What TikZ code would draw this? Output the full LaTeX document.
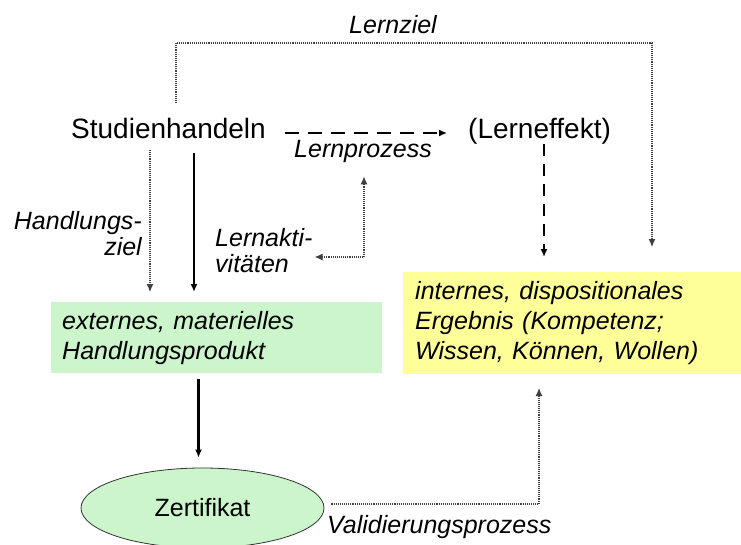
\documentclass[tikz,border=0pt]{standalone}
\usepackage{fontspec}
\setmainfont{Liberation Sans}
\usetikzlibrary{arrows.meta, shapes, positioning}

\definecolor{boxgreen}{RGB}{204,245,204}
\definecolor{boxyellow}{RGB}{255,255,153}

\begin{document}
\begin{tikzpicture}[x=1pt, y=-1pt,
    big/.style={font=\fontsize{28}{33}\selectfont, inner sep=0pt},
    lbl/.style={font=\fontsize{25}{26}\selectfont\itshape, inner sep=0pt},
    resultbox/.style={font=\fontsize{25}{30}\selectfont\itshape, align=left, anchor=north west, inner ysep=0pt},
    dots/.style={densely dotted, line width=1.1pt, black!75},
    dashline/.style={dash pattern=on 14pt off 9pt, line width=1.4pt},
    solidline/.style={line width=2.6pt},
    tip/.style={-{Latex[length=8pt,width=7pt]}}]

\pgfdeclarelayer{bg}    % connectors behind the nodes
\pgfsetlayers{bg,main}

\useasboundingbox (0,0) rectangle (741,544);
\clip (0,0) rectangle (741,544);

% texts
\node (lernziel)[lbl, anchor=base] at (393,33) {Lernziel};
\node (studien)[big, anchor=base west] at (71,138) {Studienhandeln};
\node (effekt)[big, anchor=base west] at (468,138) {(Lerneffekt)};
\node (lernproz)[lbl, anchor=base] at (363,157) {Lernprozess};
\node (hziel)[lbl, align=right, anchor=east] at (142,234) {Handlungs-\\ziel};
\node (akt)[lbl, align=left, anchor=west] at (215,251) {Lernakti-\\vitäten};
\node (valid)[lbl, anchor=base west] at (327,533) {Validierungsprozess};

% boxes
\node (extern)[resultbox, fill=boxgreen, text width=309pt, inner xsep=11pt,
  minimum height=71pt] at (51,302) {externes, materielles\\Handlungsprodukt};
\node (intern)[resultbox, fill=boxyellow, text width=314pt, inner xsep=12pt,
  minimum height=102pt] at (403,272) {internes, dispositionales\\Ergebnis (Kompetenz;\\Wissen, Können, Wollen)};
\node (zert)[ellipse, draw=black!80, line width=0.8pt, fill=boxgreen,
  minimum width=243pt, minimum height=80pt, font=\fontsize{25}{30}\selectfont] at (202.5,508) {Zertifikat};

% helper points
\coordinate (lzA) at (176,103);
\coordinate (lzB) at (652,247);
\coordinate (effEnd) at (544,257);
\coordinate (hz) at (150,150);
\coordinate (sh) at (194,153);
\coordinate (la) at (364,257);
\coordinate (val) at (539,388);

\begin{pgfonlayer}{bg}
\draw[dots, tip] (lzA) -- ++(0,-60) -| (lzB);
\draw[dashline, tip, shorten <=19pt, shorten >=21pt] ([yshift=-5pt]studien.east) -- ([yshift=-5pt]studien.east -| effekt.west);
\draw[dashline, dash pattern=on 12pt off 8pt, tip] (effEnd |- effekt.south) -- (effEnd);
\draw[dots, tip, shorten >=10pt] (hz) -- (hz |- extern.north);
\draw[solidline, tip, shorten >=10pt] (sh) -- (sh |- extern.north);
\draw[dots, {Latex[length=8pt,width=7pt]}-{Latex[length=8pt,width=7pt]}, shorten <=2pt, shorten >=14pt]
  (la -| akt.east) -- (la) -- (la |- lernproz.south);
\draw[solidline, tip, shorten <=6pt, shorten >=10pt] ([xshift=-4pt]extern.south -| zert.north) -- ([xshift=-4pt]zert.north);
\draw[dots, tip] ([shift={(7,-4)}]zert.east) -| (val);
\end{pgfonlayer}
\end{tikzpicture}
\end{document}
